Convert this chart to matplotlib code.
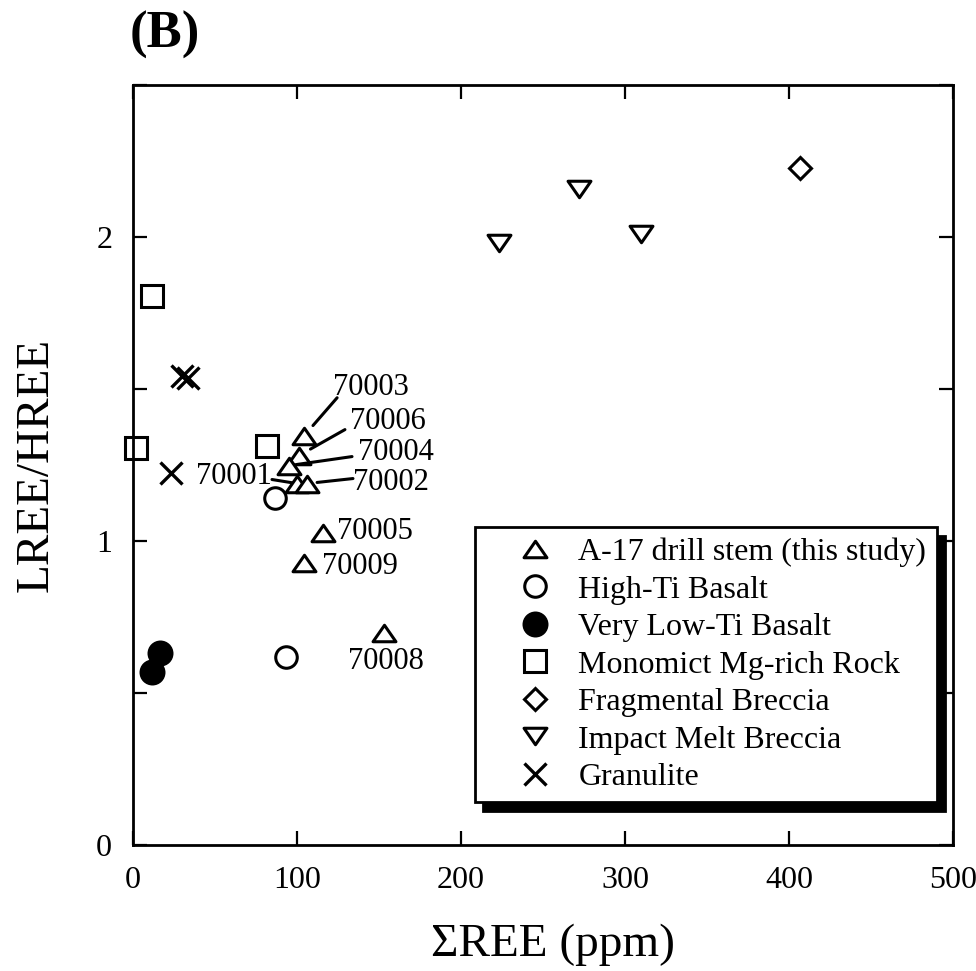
import matplotlib
matplotlib.use("Agg")
import matplotlib.pyplot as plt
from matplotlib.path import Path
from matplotlib.ticker import MultipleLocator

plt.rcParams['font.family'] = ['Liberation Serif', 'DejaVu Serif']

# ---- data: sum of REE (ppm) vs LREE/HREE ----
drill_labels = ['70003', '70006', '70004', '70001', '70002', '70005', '70009', '70008']
drill_ree = [104.3, 101.2, 95.1, 100.0, 106.1, 116.0, 104.5, 153.0]
drill_ratio = [1.346, 1.281, 1.248, 1.189, 1.189, 1.025, 0.926, 0.696]

high_ti_ree = [86.6, 93.3]
high_ti_ratio = [1.14, 0.62]

vlt_ree = [16.5, 11.6]
vlt_ratio = [0.63, 0.568]

mg_rock_ree = [11.6, 1.8, 81.7]
mg_rock_ratio = [1.806, 1.307, 1.314]

frag_ree = [407.0]
frag_ratio = [2.226]

melt_ree = [272.0, 223.0, 310.0]
melt_ratio = [2.157, 1.98, 2.01]

gran_ree = [30.0, 33.7, 23.0]
gran_ratio = [1.543, 1.537, 1.225]

x_ticks = [0, 100, 200, 300, 400, 500]
y_ticks = [0, 1, 2]

# ---- flattened triangle markers ----
tri_up = Path([(-1, -0.72), (1, -0.72), (0, 0.72), (-1, -0.72)],
              [Path.MOVETO, Path.LINETO, Path.LINETO, Path.CLOSEPOLY])
tri_down = Path([(-1, 0.72), (1, 0.72), (0, -0.72), (-1, 0.72)],
                [Path.MOVETO, Path.LINETO, Path.LINETO, Path.CLOSEPOLY])

fig = plt.figure(figsize=(9.76, 9.71), dpi=100)
ax = fig.add_axes([133 / 976, 1 - 845 / 971, 820 / 976, 760 / 971])

mew = 2.2
common = dict(linestyle='none', markeredgecolor='black', markeredgewidth=mew, clip_on=False)
ax.plot(drill_ree, drill_ratio, marker=tri_up, markersize=16.5, markerfacecolor='white',
        label='A-17 drill stem (this study)', **common)
ax.plot(high_ti_ree, high_ti_ratio, marker='o', markersize=15.5, markerfacecolor='white',
        label='High-Ti Basalt', **common)
ax.plot(vlt_ree, vlt_ratio, marker='o', markersize=16.5, markerfacecolor='black',
        label='Very Low-Ti Basalt', **common)
ax.plot(mg_rock_ree, mg_rock_ratio, marker='s', markersize=15.5, markerfacecolor='white',
        label='Monomict Mg-rich Rock', **common)
ax.plot(frag_ree, frag_ratio, marker='D', markersize=11.5, markerfacecolor='white',
        label='Fragmental Breccia', **common)
ax.plot(melt_ree, melt_ratio, marker=tri_down, markersize=16.5, markerfacecolor='white',
        label='Impact Melt Breccia', **common)
ax.plot(gran_ree, gran_ratio, marker='x', markersize=15.5, markerfacecolor='none',
        label='Granulite', linestyle='none', markeredgecolor='black', markeredgewidth=2.4)

# ---- sample labels (offsets in points) with leader lines ----
label_layout = {
    '70003': dict(text=(20.9, 34.6), ha='left', line=((23.8, 27.4), 9.8)),
    '70006': dict(text=(36.7, 24.5), ha='left', line=((33.1, 18.7), 9.5)),
    '70004': dict(text=(49.7, 9.4), ha='left', line=((45.4, 6.5), 5.8)),
    '70001': dict(text=(-18.0, 5.0), ha='right', line=((-18.0, 2.9), 3.6)),
    '70002': dict(text=(33.1, 0.7), ha='left', line=((33.1, 3.6), 7.3)),
    '70005': dict(text=(10.1, 1.4), ha='left', line=None),
    '70009': dict(text=(13.0, -2.2), ha='left', line=None),
    '70008': dict(text=(1.4, -20.0), ha='center', line=None),
}
for name, xv, yv in zip(drill_labels, drill_ree, drill_ratio):
    lay = label_layout[name]
    ax.annotate(name, xy=(xv, yv), xytext=lay['text'], textcoords='offset points',
                ha=lay['ha'], va='center', fontsize=22)
    if lay['line'] is not None:
        end, gap = lay['line']
        ax.annotate('', xy=(xv, yv), xytext=end, textcoords='offset points',
                    arrowprops=dict(arrowstyle='-', lw=2.2, color='black',
                                    shrinkA=0, shrinkB=gap))

# ---- axes styling ----
ax.set_xlim(0, 500)
ax.set_ylim(0, 2.5)
ax.set_xticks(x_ticks)
ax.set_yticks(y_ticks)
ax.yaxis.set_minor_locator(MultipleLocator(0.5))
ax.tick_params(which='both', direction='in', length=10, width=1.6,
               top=True, right=True, labelsize=23, pad=15)
ax.tick_params(axis='x', which='minor', bottom=False, top=False)
for sp in ax.spines.values():
    sp.set_linewidth(2.0)

ax.set_xlabel('ΣREE (ppm)', fontsize=34, va='center')
ax.xaxis.set_label_coords(0.512, -0.1316)
ax.set_ylabel('LREE/HREE', fontsize=34, va='center')
ax.yaxis.set_label_coords(-0.118, 0.5)

fig.text(165 / 976, 1 - 35 / 971, '(B)', fontsize=38, fontweight='bold',
         ha='center', va='center')

leg = ax.legend(loc='upper left', bbox_to_anchor=(0.417, 0.418), borderaxespad=0,
                fontsize=23, frameon=True, fancybox=False, handlelength=3.1,
                handletextpad=-0.18, borderpad=0.32, labelspacing=0.255,
                shadow=dict(ox=6, oy=-6, facecolor='black', edgecolor='black', alpha=1))
leg.get_frame().set_edgecolor('black')
leg.get_frame().set_linewidth(2.0)
leg.get_frame().set_alpha(1)

fig.savefig('out.png', dpi=100)
